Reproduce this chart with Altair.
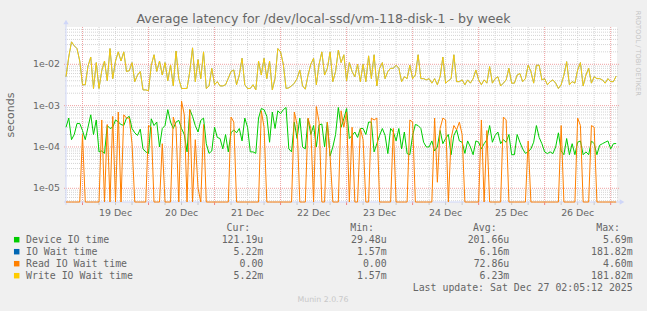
import altair as alt
import pandas as pd

# ---------------- data (hourly, hour counted from 18 Dec 00:00) ----------------
start_hour = 18

# Device IO time, milliseconds
device_ms = [
    0.30, 0.50, 0.15, 0.20, 0.37, 0.37, 0.25, 0.15, 0.30, 0.60,
    0.20, 0.45, 0.076, 0.08, 0.07, 0.33, 0.28, 0.30, 0.45, 0.40,
    0.35, 0.33, 0.50, 0.55, 0.28, 0.22, 0.19, 0.27, 0.09, 0.076,
    0.07, 0.48, 0.33, 0.40, 0.10, 0.28, 0.33, 0.80, 0.40, 0.28,
    0.40, 0.44, 0.28, 0.20, 0.076, 0.80, 0.55, 0.33, 0.23, 0.44,
    0.50, 0.12, 0.07, 0.08, 0.30, 0.17, 0.16, 0.09, 0.20, 0.076,
    0.22, 0.26, 0.22, 0.28, 0.14, 0.50, 0.30, 0.076, 0.076, 0.07,
    0.50, 0.85, 0.80, 0.55, 0.13, 0.70, 0.28, 0.75, 0.64, 0.80,
    0.90, 0.09, 0.076, 0.40, 0.16, 0.50, 0.10, 0.09, 0.48, 0.20,
    0.33, 0.10, 0.34, 0.36, 0.10, 0.40, 0.06, 0.10, 0.20, 0.90,
    0.30, 0.48, 0.85, 0.16, 0.19, 0.23, 0.17, 0.28, 0.28, 0.20,
    0.40, 0.40, 0.076, 0.12, 0.19, 0.28, 0.19, 0.069, 0.28, 0.23,
    0.14, 0.28, 0.09, 0.23, 0.069, 0.065, 0.19, 0.35, 0.33, 0.28,
    0.13, 0.10, 0.10, 0.14, 0.08, 0.10, 0.25, 0.12, 0.16, 0.20,
    0.065, 0.19, 0.26, 0.14, 0.13, 0.07, 0.14, 0.10, 0.065, 0.14,
    0.13, 0.09, 0.12, 0.15, 0.33, 0.13, 0.19, 0.23, 0.12, 0.15,
    0.13, 0.20, 0.065, 0.065, 0.20, 0.13, 0.09, 0.07, 0.076, 0.09,
    0.13, 0.33, 0.17, 0.12, 0.076, 0.069, 0.076, 0.069, 0.10, 0.22,
    0.08, 0.065, 0.16, 0.065, 0.12, 0.065, 0.13, 0.14, 0.065, 0.076,
    0.065, 0.14, 0.12, 0.065, 0.11, 0.12, 0.13, 0.14, 0.09, 0.12,
    0.121,
]

# Write IO Wait time, milliseconds
write_ms = [
    5.0, 15, 35, 28, 24, 12, 3.2, 3.2, 9, 15,
    2.6, 11, 2.6, 7, 12, 4.0, 24, 4.5, 12, 20,
    12, 20, 6.7, 7, 11, 3.8, 5.5, 6.7, 2.4, 2.4,
    2.3, 9.5, 17, 6.7, 12, 5.5, 11, 4.0, 9.5, 3.0,
    21, 4.5, 2.6, 2.6, 2.6, 6.7, 25, 3.8, 13, 4.5,
    20, 2.6, 3.0, 8, 3.2, 3.8, 3.0, 3.0, 3.2, 4.6,
    6.7, 7.3, 3.2, 5.5, 14, 3.2, 2.6, 2.6, 3.2, 2.4,
    12, 5.5, 14, 4.5, 12, 2.4, 4.6, 24, 20, 10,
    2.6, 2.7, 3.0, 3.5, 4.5, 7.3, 3.0, 2.5, 5.5, 10,
    14, 3.2, 10, 20, 5.5, 8, 20, 3.8, 6.7, 22,
    11, 17, 4.0, 11, 6.7, 5.0, 10, 3.8, 10, 3.8,
    16, 4.5, 17, 3.0, 8, 11, 4.5, 6.7, 8, 8,
    9.5, 8, 3.8, 5, 4.5, 9.5, 4.5, 5.5, 17, 4.5,
    4.5, 4.2, 4.5, 3.5, 4.5, 3.2, 5, 15, 3.5, 4.0,
    4.5, 17, 3.8, 3.8, 4.2, 3.2, 4.2, 3.5, 4.5, 7.3,
    4.2, 3.2, 4.2, 3.5, 8.8, 3.5, 4.5, 5.0, 3.0, 3.5,
    4.2, 8, 3.5, 3.5, 5.5, 6, 3.8, 4.5, 9.5, 6.7,
    3.5, 9.5, 9.5, 4.2, 4.5, 3.2, 3.8, 4.2, 3.5, 2.6,
    3.2, 5.5, 11.6, 3.2, 3.8, 3.5, 7.3, 11, 3.0, 5.5,
    8, 3.5, 5, 4.5, 4.5, 4.2, 3.5, 4.5, 3.8, 3.8,
    5.2,
]

# IO Wait time is drawn under the yellow line and coincides with it
io_wait_ms = write_ms

# Read IO Wait time, milliseconds (0 = nothing, drawn at the bottom edge)
read_ms = [
    0, 0, 0, 0, 0, 0, 0.2, 0, 0, 0,
    0, 0, 0, 0.45, 0, 0.35, 0, 0.55, 0, 0.7,
    0, 0.6, 0.5, 0.5, 0.12, 0, 0, 0, 0, 0,
    0.33, 0.30, 0, 0, 0, 0.12, 0, 0, 0, 0.53,
    0.3, 0, 1.3, 0.6, 0, 0.8, 0, 0.15, 0.01, 0,
    0.35, 0, 0, 0, 0, 0, 0, 0, 0, 0,
    0.53, 0.40, 0, 0, 0, 0, 0, 0, 0, 0,
    0, 0.75, 0.30, 0, 0, 0, 0, 0, 0, 0,
    0, 0, 0, 0.7, 0.35, 0, 0, 0, 0.5, 0.28,
    0, 0.95, 0.4, 0, 0, 0.40, 0.06, 0, 0, 0,
    0.75, 0.3, 0.7, 0, 0.3, 0, 0, 0.28, 0.15, 0,
    0, 0.5, 0.45, 0.5, 0, 0, 0, 0, 0, 0.28,
    0, 0, 0, 0, 0, 0.45, 0.4, 0, 0, 0,
    0, 0, 0, 0, 0.5, 0.014, 0.28, 0.5, 0.45, 0,
    0.16, 0.33, 0.26, 0.4, 0.2, 0, 0, 0, 0, 0,
    0, 0.45, 0, 0.25, 0, 0, 0, 0, 0, 0.53,
    0.45, 0, 0, 0, 0, 0, 0, 0, 0.14, 0,
    0, 0, 0, 0, 0, 0, 0, 0, 0, 0,
    0.33, 0, 0, 0, 0, 0, 0.5, 0.33, 0, 0,
    0, 0.33, 0.30, 0, 0, 0, 0, 0, 0, 0,
    0,
]

series_names = ["Device IO time", "IO Wait time", "Read IO Wait time", "Write IO Wait time"]
series_colors = ["#00CC00", "#0066B3", "#FF8000", "#FFCC00"]
cur_vals = ["121.19u", "5.22m", "0.00", "5.22m"]
min_vals = ["29.48u", "1.57m", "0.00", "1.57m"]
avg_vals = ["201.66u", "6.16m", "72.86u", "6.23m"]
max_vals = ["5.69m", "181.82m", "4.60m", "181.82m"]

day_labels = ["19 Dec", "20 Dec", "21 Dec", "22 Dec", "23 Dec", "24 Dec", "25 Dec", "26 Dec"]
day_label_hours = [36, 60, 84, 108, 132, 156, 180, 204]
y_tick_values = [1e-5, 1e-4, 1e-3, 1e-2]
y_tick_labels = ["1e-05", "1e-04", "1e-03", "1e-02"]

title_text = "Average latency for /dev/local-ssd/vm-118-disk-1 - by week"
last_update = "Last update: Sat Dec 27 02:05:12 2025"
munin_text = "Munin 2.0.76"
rrd_text = "RRDTOOL / TOBI OETIKER"

# ---------------- layout ----------------
W, H = 551, 175
FONT = "DejaVu Sans"
MONO = "DejaVu Sans Mono"
TXT = "#666666"
AXIS = "#CFD6F8"

xs = alt.Scale(domain=[18.0, 218.3], nice=False, zero=False)
ys = alt.Scale(type="log", domain=[4.66e-6, 0.0799], nice=False, clamp=True)

hours = list(range(start_hour, start_hour + len(write_ms)))


def series_df(vals_ms):
    return pd.DataFrame({"h": hours, "v": [max(v / 1000.0, 1e-9) for v in vals_ms]})


X = alt.X("h:Q", scale=xs, axis=None)
Y = alt.Y("v:Q", scale=ys, axis=None)

# grid values
minor_y = [m * 10.0 ** e for e in range(-6, -1) for m in range(2, 10)
           if 4.66e-6 < m * 10.0 ** e < 0.0799]
grid_h = list(range(24, 218, 6))
minor_x = [h for h in grid_h if h % 24 != 0]
major_x = [h for h in grid_h if h % 24 == 0]

layers = []

layers.append(alt.Chart(pd.DataFrame({"v": minor_y})).mark_rule(
    color="#d4d4d4", strokeWidth=1, strokeDash=[1, 1]).encode(
    y=Y, x=alt.value(-1), x2=alt.value(W + 1)))
layers.append(alt.Chart(pd.DataFrame({"h": minor_x})).mark_rule(
    color="#d4d4d4", strokeWidth=1, strokeDash=[1, 1]).encode(
    x=X, y=alt.value(0), y2=alt.value(H)))
layers.append(alt.Chart(pd.DataFrame({"v": y_tick_values})).mark_rule(
    color="#eea0a0", strokeWidth=1, strokeDash=[1, 1]).encode(
    y=Y, x=alt.value(-2), x2=alt.value(W + 2)))
layers.append(alt.Chart(pd.DataFrame({"h": major_x})).mark_rule(
    color="#eea0a0", strokeWidth=1, strokeDash=[1, 1]).encode(
    x=X, y=alt.value(0), y2=alt.value(H)))
# small ticks under the time axis
layers.append(alt.Chart(pd.DataFrame({"h": minor_x})).mark_rule(
    color="#c8c8c8", strokeWidth=1).encode(x=X, y=alt.value(H), y2=alt.value(H + 3)))
layers.append(alt.Chart(pd.DataFrame({"h": major_x})).mark_rule(
    color="#f08080", strokeWidth=1).encode(x=X, y=alt.value(H), y2=alt.value(H + 3)))

# axis lines and arrows
layers.append(alt.Chart(pd.DataFrame({"a": [0]})).mark_rule(color=AXIS, strokeWidth=1).encode(
    x=alt.value(-2), x2=alt.value(W + 3), y=alt.value(H)))
layers.append(alt.Chart(pd.DataFrame({"a": [0]})).mark_rule(color=AXIS, strokeWidth=1).encode(
    x=alt.value(0), y=alt.value(-3), y2=alt.value(H + 3)))
layers.append(alt.Chart(pd.DataFrame({"a": [0]})).mark_point(
    shape="triangle-up", filled=True, size=28, color=AXIS, opacity=1).encode(
    x=alt.value(0), y=alt.value(-5)))
layers.append(alt.Chart(pd.DataFrame({"a": [0]})).mark_point(
    shape="triangle-right", filled=True, size=28, color=AXIS, opacity=1).encode(
    x=alt.value(W + 5), y=alt.value(H)))

# data lines, in rrdtool drawing order
layers.append(alt.Chart(series_df(device_ms)).mark_line(color=series_colors[0], strokeWidth=1).encode(x=X, y=Y))
layers.append(alt.Chart(series_df(io_wait_ms)).mark_line(color=series_colors[1], strokeWidth=1, opacity=0.6).encode(x=X, y=Y))
layers.append(alt.Chart(series_df(read_ms)).mark_line(color=series_colors[2], strokeWidth=1).encode(x=X, y=Y))
layers.append(alt.Chart(series_df(write_ms)).mark_line(color=series_colors[3], strokeWidth=1, opacity=0.95).encode(x=X, y=Y))

# axis labels
layers.append(alt.Chart(pd.DataFrame({"v": y_tick_values, "t": y_tick_labels})).mark_text(
    font=FONT, fontSize=9.4, color=TXT, align="right", baseline="middle").encode(
    y=Y, x=alt.value(-6), text="t:N"))
layers.append(alt.Chart(pd.DataFrame({"h": day_label_hours, "t": day_labels})).mark_text(
    font=FONT, fontSize=9.4, color=TXT, align="center", baseline="middle").encode(
    x=X, y=alt.value(185.7), text="t:N"))
layers.append(alt.Chart(pd.DataFrame({"t": ["seconds"]})).mark_text(
    font=FONT, fontSize=11, color=TXT, align="center", baseline="middle", angle=270).encode(
    x=alt.value(-55), y=alt.value(88), text="t:N"))

# title, watermarks
layers.append(alt.Chart(pd.DataFrame({"t": [title_text]})).mark_text(
    font=FONT, fontSize=12.6, color=TXT, align="center", baseline="alphabetic").encode(
    x=alt.value(257.5), y=alt.value(-4), text="t:N"))
layers.append(alt.Chart(pd.DataFrame({"t": [rrd_text]})).mark_text(
    font=FONT, fontSize=6.6, color="#c4c4c4", align="center", baseline="middle", angle=90).encode(
    x=alt.value(571.7), y=alt.value(26.3), text="t:N"))
layers.append(alt.Chart(pd.DataFrame({"t": [munin_text]})).mark_text(
    font=FONT, fontSize=7.8, color="#c8c8c8", align="center", baseline="middle").encode(
    x=alt.value(257), y=alt.value(273), text="t:N"))

# legend
row_y = [212.7, 224.7, 236.7, 248.7]


def pad(s):
    return s if s[-1].isalpha() else s + "\u00a0"


leg = pd.DataFrame({
    "name": series_names, "c": series_colors, "ry": row_y,
    "cur": [pad(s) for s in cur_vals], "mn": [pad(s) for s in min_vals],
    "avg": [pad(s) for s in avg_vals], "mx": [pad(s) for s in max_vals],
})
RY = alt.Y("ry:Q", scale=None, axis=None)
layers.append(alt.Chart(leg).mark_square(size=30, opacity=1).encode(
    x=alt.value(-49.3), y=RY, color=alt.Color("c:N", scale=None, legend=None)))
layers.append(alt.Chart(leg).mark_text(
    font=MONO, fontSize=9.9, color=TXT, align="left", baseline="middle").encode(
    x=alt.value(-40), y=RY, text="name:N"))
for col, xr in [("cur", 197.3), ("mn", 320.7), ("avg", 443.3), ("mx", 566.7)]:
    layers.append(alt.Chart(leg).mark_text(
        font=MONO, fontSize=9.9, color=TXT, align="right", baseline="middle").encode(
        x=alt.value(xr), y=RY, text=f"{col}:N"))

headers = pd.DataFrame({"t": ["Cur:", "Min:", "Avg:", "Max:"]})
for i, xr in enumerate([184.3, 308, 430.7, 554]):
    layers.append(alt.Chart(headers.iloc[[i]]).mark_text(
        font=MONO, fontSize=9.9, color=TXT, align="right", baseline="middle").encode(
        x=alt.value(xr), y=alt.value(200.7), text="t:N"))
layers.append(alt.Chart(pd.DataFrame({"t": [last_update]})).mark_text(
    font=MONO, fontSize=9.9, color=TXT, align="right", baseline="middle").encode(
    x=alt.value(566.7), y=alt.value(260.7), text="t:N"))

chart = alt.layer(*layers).properties(
    width=W, height=H,
    padding={"left": 66, "top": 27, "right": 30, "bottom": 109},
    autosize=alt.AutoSizeParams(type="none"),
    background="#F0F0F0",
).configure_view(fill="white", stroke=None)

chart.save("out.html", embed_options={"renderer": "svg", "actions": False})
